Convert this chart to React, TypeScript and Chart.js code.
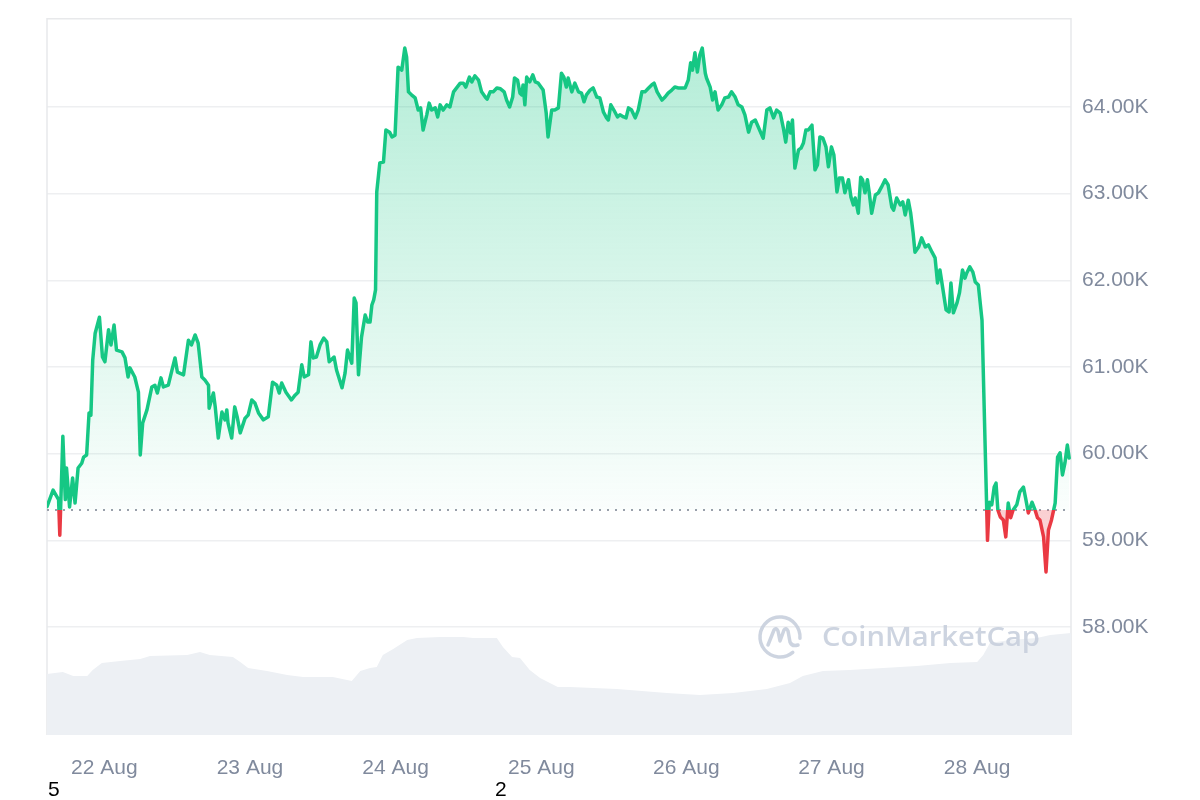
import React, { useEffect, useRef } from 'react';
import { Chart, registerables } from 'chart.js';

Chart.register(...registerables);

// Reference price (start of period) – the dotted baseline
const BASELINE = 59350;

// [hours since start of 7D window, price USD]
const priceSeries: [number, number][] = [
  [0.0, 59390], [1.0, 59580], [1.9, 59470], [2.1, 59060], [2.6, 60200], [3.0, 59470], [3.2, 59835], [3.7, 59385],
  [4.2, 59720], [4.6, 59430], [5.1, 59835], [5.7, 59890], [6.0, 59960], [6.5, 59985], [6.9, 60470], [7.2, 60445],
  [7.5, 61080], [7.9, 61390], [8.6, 61575], [9.1, 61115], [9.5, 61060], [10.1, 61430], [10.5, 61255], [11.0, 61485],
  [11.4, 61195], [12.3, 61175], [12.8, 61105], [13.3, 60885], [13.6, 60990], [14.4, 60885], [15.0, 60710], [15.3, 59985],
  [15.7, 60355], [16.4, 60505], [17.2, 60770], [17.7, 60790], [18.1, 60700], [18.7, 60875], [19.1, 60770], [19.9, 60790],
  [20.5, 60965], [21.0, 61105], [21.4, 60940], [22.4, 60910], [23.2, 61310], [23.7, 61255], [24.3, 61370], [24.8, 61275],
  [25.4, 60885], [25.9, 60850], [26.5, 60790], [26.6, 60525], [27.3, 60700], [27.6, 60540], [28.1, 60180], [28.7, 60480],
  [29.2, 60390], [29.5, 60505], [29.7, 60355], [30.3, 60180], [30.8, 60540], [31.2, 60425], [31.7, 60240], [32.5, 60410],
  [33.0, 60445], [33.6, 60620], [34.1, 60585], [34.7, 60470], [35.5, 60390], [36.3, 60425], [37.0, 60825], [37.7, 60790],
  [38.1, 60700], [38.5, 60815], [39.2, 60710], [40.1, 60620], [40.7, 60675], [41.2, 60710], [41.8, 61025], [42.2, 60885],
  [42.9, 60910], [43.3, 61290], [43.7, 61105], [44.2, 61115], [44.8, 61255], [45.4, 61335], [45.9, 61290], [46.3, 61060],
  [47.1, 61115], [47.5, 60965], [48.4, 60760], [48.9, 60930], [49.3, 61195], [50.0, 61045], [50.4, 61795], [50.7, 61740],
  [51.1, 60910], [51.6, 61345], [52.2, 61600], [52.6, 61520], [53.0, 61520], [53.3, 61715], [53.6, 61775], [53.9, 61890],
  [54.1, 63020], [54.6, 63355], [55.2, 63365], [55.6, 63735], [56.2, 63710], [56.6, 63655], [57.1, 63675], [57.6, 64460],
  [58.2, 64425], [58.7, 64680], [59.0, 64575], [59.3, 64175], [59.8, 64140], [60.4, 64105], [60.9, 63965], [61.3, 63990],
  [61.7, 63735], [62.3, 63910], [62.7, 64045], [63.1, 63965], [63.7, 63990], [64.1, 63885], [64.5, 64025], [65.0, 63965],
  [65.6, 64025], [66.1, 64000], [66.7, 64175], [67.2, 64220], [67.8, 64275], [68.3, 64275], [68.7, 64230], [69.3, 64345],
  [69.7, 64290], [70.2, 64360], [70.8, 64310], [71.3, 64175], [71.9, 64115], [72.2, 64090], [72.7, 64175], [73.2, 64175],
  [73.8, 64220], [74.4, 64210], [75.0, 64175], [75.4, 64080], [75.9, 64000], [76.4, 64115], [76.7, 64335], [77.2, 64310],
  [77.6, 64160], [77.9, 64140], [78.1, 64255], [78.4, 64025], [78.7, 64345], [79.2, 64290], [79.7, 64370], [80.1, 64290],
  [80.6, 64275], [81.4, 64195], [81.9, 63930], [82.2, 63655], [82.8, 63965], [83.3, 63965], [83.9, 63990], [84.4, 64390],
  [84.8, 64345], [85.2, 64230], [85.5, 64335], [86.1, 64175], [86.6, 64275], [87.2, 64175], [87.7, 64160], [88.1, 64060],
  [88.5, 64140], [89.1, 64195], [89.6, 64220], [90.2, 64115], [90.7, 64105], [91.3, 63940], [91.8, 63875], [92.1, 63850],
  [92.5, 64025], [93.0, 63965], [93.6, 63885], [94.0, 63910], [94.6, 63885], [95.0, 63875], [95.4, 63990], [95.9, 63965],
  [96.5, 63875], [97.0, 63965], [97.6, 64175], [98.1, 64175], [98.7, 64220], [99.2, 64255], [99.6, 64275], [100.1, 64175],
  [100.9, 64080], [101.4, 64115], [101.9, 64160], [102.5, 64195], [103.0, 64230], [103.6, 64220], [104.1, 64220], [104.7, 64220],
  [105.2, 64310], [105.6, 64510], [105.9, 64425], [106.3, 64625], [106.7, 64405], [107.1, 64600], [107.5, 64680], [108.0, 64390],
  [108.2, 64335], [108.8, 64230], [109.2, 64080], [109.6, 64175], [110.1, 63965], [110.7, 64025], [111.2, 64105], [111.8, 64115],
  [112.3, 64175], [112.9, 64115], [113.4, 64025], [114.0, 64000], [114.5, 63910], [115.1, 63710], [115.6, 63825], [116.2, 63850],
  [116.7, 63770], [117.5, 63640], [118.1, 63965], [118.6, 63990], [119.2, 63875], [119.7, 63965], [120.3, 63930], [120.8, 63760],
  [121.2, 63595], [121.6, 63825], [122.0, 63700], [122.3, 63850], [122.7, 63295], [123.3, 63505], [123.7, 63525], [124.1, 63585],
  [124.5, 63735], [124.9, 63735], [125.5, 63790], [126.0, 63275], [126.4, 63330], [126.8, 63655], [127.3, 63640], [127.8, 63540],
  [128.2, 63310], [128.7, 63540], [129.1, 63445], [129.6, 63020], [130.0, 63180], [130.5, 63180], [130.9, 63010], [131.5, 63160],
  [131.9, 62960], [132.3, 62870], [132.6, 62950], [133.1, 62775], [133.5, 63190], [133.8, 63160], [134.2, 63010], [134.6, 63160],
  [134.9, 63010], [135.3, 62775], [135.9, 62985], [136.4, 63010], [136.9, 63075], [137.5, 63160], [138.0, 63100], [138.6, 62845],
  [138.9, 62810], [139.4, 62950], [140.0, 62870], [140.4, 62905], [140.8, 62755], [141.3, 62925], [141.7, 62775], [142.1, 62545],
  [142.4, 62325], [143.0, 62385], [143.5, 62490], [144.1, 62385], [144.6, 62410], [145.2, 62325], [145.7, 62260], [146.1, 61970],
  [146.5, 62120], [147.0, 61890], [147.5, 61660], [148.0, 61635], [148.3, 61970], [148.7, 61625], [149.3, 61740], [149.7, 61855],
  [150.2, 62120], [150.6, 62025], [150.9, 62085], [151.4, 62155], [151.9, 62095], [152.3, 61980], [152.8, 61945], [153.4, 61540],
  [153.9, 60125], [154.3, 59000], [154.6, 59440], [155.0, 59410], [155.4, 59615], [155.7, 59660], [156.0, 59350], [156.4, 59270],
  [156.9, 59235], [157.3, 59040], [157.7, 59430], [158.1, 59260], [158.5, 59350], [159.1, 59410], [159.6, 59560], [160.2, 59615],
  [160.6, 59470], [161.0, 59315], [161.6, 59440], [162.1, 59350], [162.5, 59260], [162.9, 59235], [163.5, 59040], [163.9, 58635],
  [164.3, 59120], [164.8, 59235], [165.4, 59430], [165.8, 59960], [166.2, 60010], [166.6, 59755], [167.0, 59890], [167.4, 60100],
  [167.7, 59950],
];

// [hours since start, 24h volume in billions USD]
const volumeSeries: [number, number][] = [
  [0.0, 25.5], [2.6, 26.4], [4.3, 24.7], [6.6, 24.7], [7.5, 27.2], [9.0, 30.1], [12.0, 31.0], [15.3, 31.8],
  [16.9, 33.1], [23.0, 33.5], [25.1, 34.7], [26.7, 33.5], [30.5, 32.6], [31.7, 30.5], [33.0, 28.0], [36.1, 26.8],
  [39.4, 25.1], [42.0, 24.3], [46.9, 24.3], [50.0, 22.6], [51.4, 26.8], [53.0, 28.0], [54.1, 28.5], [55.1, 33.5],
  [56.8, 36.0], [59.1, 39.7], [60.7, 40.6], [64.5, 41.0], [68.3, 41.0], [69.9, 40.6], [73.8, 40.6], [74.8, 36.8],
  [76.3, 32.6], [77.6, 32.2], [79.2, 27.2], [80.9, 23.8], [82.5, 21.8], [83.8, 20.1], [85.8, 20.1], [93.5, 19.2],
  [101.7, 17.6], [107.1, 16.7], [112.6, 17.6], [118.1, 19.2], [121.9, 21.8], [124.0, 24.7], [127.3, 26.8], [131.7, 27.2],
  [137.2, 28.0], [142.7, 28.9], [148.2, 30.1], [152.6, 30.5], [153.6, 33.5], [154.7, 38.5], [158.0, 39.7], [162.4, 40.6],
  [164.6, 41.8], [168.0, 42.7],
];

const dayTickHours = [9.4, 33.3, 57.2, 81.1, 104.9, 128.7, 152.6];
const dayLabels = ['22 Aug', '23 Aug', '24 Aug', '25 Aug', '26 Aug', '27 Aug', '28 Aug'];
const priceTicks = [58000, 59000, 60000, 61000, 62000, 63000, 64000];

const GREEN = '#16c784';
const RED = '#ea3943';
const AXIS_TEXT = '#808a9d';
const FONT = '"Liberation Sans", Arial, Helvetica, sans-serif';

function splitGradient(chart: any, top: string, mid: string, belowTop: string, bottom: string) {
  const area = chart.chartArea;
  if (!area || !chart.scales || !chart.scales.y) return top;
  const by = chart.scales.y.getPixelForValue(BASELINE);
  let r = (by - area.top) / (area.bottom - area.top);
  r = Math.max(0, Math.min(1, r));
  const g = chart.ctx.createLinearGradient(0, area.top, 0, area.bottom);
  g.addColorStop(0, top);
  g.addColorStop(r, mid);
  g.addColorStop(Math.min(1, r + 0.0001), belowTop);
  g.addColorStop(1, bottom);
  return g;
}

const framePlugin = {
  id: 'frame',
  beforeDatasetsDraw(chart: any) {
    const { ctx, chartArea: a } = chart;
    ctx.save();
    ctx.strokeStyle = '#e8e9eb';
    ctx.lineWidth = 1.5;
    ctx.beginPath();
    ctx.moveTo(a.left, a.bottom);
    ctx.lineTo(a.left, a.top + 0.75);
    ctx.lineTo(a.right, a.top + 0.75);
    ctx.lineTo(a.right, a.bottom);
    ctx.stroke();
    ctx.restore();
  },
};

const watermarkPlugin = {
  id: 'watermark',
  afterDatasetsDraw(chart: any) {
    const { ctx } = chart;
    const a = chart.chartArea;
    const cx = a.right - 291;
    const cy = a.top + 619;
    ctx.save();
    ctx.strokeStyle = 'rgba(196,204,218,0.85)';
    ctx.fillStyle = 'rgba(196,204,218,0.85)';
    ctx.lineWidth = 3.5;
    ctx.lineCap = 'round';
    ctx.lineJoin = 'round';
    ctx.beginPath();
    ctx.arc(cx, cy, 20, Math.PI * 0.28, Math.PI * 2.02, false);
    ctx.stroke();
    ctx.beginPath();
    ctx.moveTo(cx - 12, cy + 8);
    ctx.lineTo(cx - 6, cy - 7);
    ctx.quadraticCurveTo(cx - 4, cy - 10, cx - 2, cy - 6);
    ctx.lineTo(cx + 0, cy + 4);
    ctx.lineTo(cx + 4, cy - 7);
    ctx.quadraticCurveTo(cx + 6, cy - 10, cx + 8, cy - 6);
    ctx.lineTo(cx + 10, cy + 5);
    ctx.quadraticCurveTo(cx + 12, cy + 10, cx + 18, cy + 8);
    ctx.stroke();
    ctx.font = '600 27px "Open Sans", "DejaVu Sans", sans-serif';
    ctx.textBaseline = 'alphabetic';
    const text = 'CoinMarketCap';
    const w = ctx.measureText(text).width;
    ctx.translate(cx + 42, cy + 9);
    ctx.scale(218 / w, 1);
    ctx.fillText(text, 0, 0);
    ctx.restore();
  },
};

export default function App() {
  const canvasRef = useRef<HTMLCanvasElement | null>(null);

  useEffect(() => {
    if (!canvasRef.current) return;
    const chart = new Chart(canvasRef.current, {
      type: 'line',
      data: {
        datasets: [
          {
            label: 'Price',
            data: priceSeries.map(([x, y]) => ({ x, y })),
            yAxisID: 'y',
            borderWidth: 3.5,
            pointRadius: 0,
            tension: 0,
            borderJoinStyle: 'round',
            borderCapStyle: 'round',
            order: 1,
            fill: { target: { value: BASELINE } },
            borderColor: (c: any) => splitGradient(c.chart, GREEN, GREEN, RED, RED),
            backgroundColor: (c: any) =>
              splitGradient(
                c.chart,
                'rgba(22,199,132,0.34)',
                'rgba(22,199,132,0.02)',
                'rgba(234,57,67,0.24)',
                'rgba(234,57,67,0.12)'
              ),
          } as any,
          {
            label: 'Baseline',
            data: [
              { x: 0, y: BASELINE },
              { x: 168, y: BASELINE },
            ],
            yAxisID: 'y',
            borderColor: '#9aa0ab',
            borderWidth: 2,
            borderDash: [2, 6],
            pointRadius: 0,
            fill: false,
            order: 2,
          },
          {
            label: 'Volume',
            data: volumeSeries.map(([x, y]) => ({ x, y })),
            yAxisID: 'yv',
            borderWidth: 0,
            borderColor: 'rgba(0,0,0,0)',
            backgroundColor: '#edf0f4',
            pointRadius: 0,
            fill: 'origin',
            tension: 0,
            order: 3,
          },
        ],
      },
      options: {
        animation: false,
        responsive: false,
        maintainAspectRatio: false,
        events: [],
        layout: { padding: { left: 47, top: 18, right: 0, bottom: 0 } },
        plugins: {
          legend: { display: false },
          tooltip: { enabled: false },
        },
        scales: {
          x: {
            type: 'linear',
            min: 0,
            max: 168,
            grid: { display: false, drawTicks: false },
            border: { display: false },
            afterBuildTicks: (axis: any) => {
              axis.ticks = dayTickHours.map((v) => ({ value: v }));
            },
            afterFit: (axis: any) => {
              axis.height = 65;
              axis.paddingLeft = 0;
              axis.paddingRight = 0;
            },
            ticks: {
              autoSkip: false,
              maxRotation: 0,
              minRotation: 0,
              padding: 21,
              color: AXIS_TEXT,
              font: { family: FONT, size: 21 },
              callback: (_v: any, i: number) => dayLabels[i],
            },
          },
          y: {
            type: 'linear',
            position: 'right',
            min: 56754,
            max: 65027,
            grid: { color: '#eeeff1', lineWidth: 1.5, drawTicks: false },
            border: { display: false },
            afterBuildTicks: (axis: any) => {
              axis.ticks = priceTicks.map((v) => ({ value: v }));
            },
            afterFit: (axis: any) => {
              axis.width = 129;
              axis.paddingTop = 0;
              axis.paddingBottom = 0;
            },
            ticks: {
              padding: 11,
              color: AXIS_TEXT,
              font: { family: FONT, size: 21 },
              callback: (v: any) => (Number(v) / 1000).toFixed(2) + 'K',
            },
          },
          yv: {
            type: 'linear',
            display: false,
            min: 0,
            max: 300,
          },
        },
      },
      plugins: [framePlugin, watermarkPlugin],
    } as any);
    return () => chart.destroy();
  }, []);

  return (
    <div style={{ position: 'absolute', left: 0, top: 0, width: 1200, height: 800, background: '#fff' }}>
      <canvas ref={canvasRef} width={1200} height={800} style={{ display: 'block', width: 1200, height: 800 }} />
      <div style={{ position: 'absolute', left: 48, top: 777, font: '21px "Liberation Sans", Arial, sans-serif', color: '#000' }}>5</div>
      <div style={{ position: 'absolute', left: 495, top: 777, font: '21px "Liberation Sans", Arial, sans-serif', color: '#000' }}>2</div>
    </div>
  );
}
